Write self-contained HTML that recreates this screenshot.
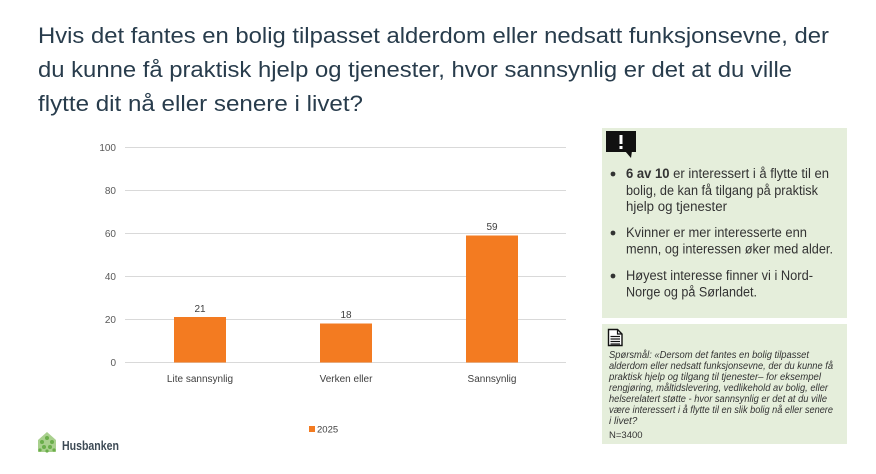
<!DOCTYPE html>
<html><head><meta charset="utf-8"><style>
html,body{margin:0;padding:0;background:#fff;}
svg{display:block;}
text{font-family:"Liberation Sans",sans-serif;}
</style></head><body>
<svg width="876" height="474" viewBox="0 0 876 474" xmlns="http://www.w3.org/2000/svg">
<rect width="876" height="474" fill="#fff"/>
<!-- Title -->
<g fill="#283c4c" font-size="22">
<text x="38" y="43" textLength="791" lengthAdjust="spacingAndGlyphs">Hvis det fantes en bolig tilpasset alderdom eller nedsatt funksjonsevne, der</text>
<text x="38" y="77" textLength="754" lengthAdjust="spacingAndGlyphs">du kunne få praktisk hjelp og tjenester, hvor sannsynlig er det at du ville</text>
<text x="38" y="111" textLength="325" lengthAdjust="spacingAndGlyphs">flytte dit nå eller senere i livet?</text>
</g>
<!-- gridlines -->
<g stroke="#d9d9d9" stroke-width="1">
<line x1="125" y1="147.5" x2="566" y2="147.5"/>
<line x1="125" y1="190.5" x2="566" y2="190.5"/>
<line x1="125" y1="233.5" x2="566" y2="233.5"/>
<line x1="125" y1="276.5" x2="566" y2="276.5"/>
<line x1="125" y1="319.5" x2="566" y2="319.5"/>
<line x1="125" y1="362.5" x2="566" y2="362.5"/>
</g>
<g fill="#595959" font-size="10" text-anchor="end">
<text x="116" y="151">100</text>
<text x="116" y="194">80</text>
<text x="116" y="237">60</text>
<text x="116" y="280">40</text>
<text x="116" y="323">20</text>
<text x="116" y="366">0</text>
</g>
<!-- bars -->
<g fill="#f37b21">
<rect x="174" y="317" width="52" height="45.5"/>
<rect x="320" y="323.5" width="52" height="39"/>
<rect x="466" y="235.5" width="52" height="127"/>
</g>
<g fill="#404040" font-size="10" text-anchor="middle">
<text x="200" y="312">21</text>
<text x="346" y="318">18</text>
<text x="492" y="230">59</text>
<text x="200" y="382">Lite sannsynlig</text>
<text x="346" y="382">Verken eller</text>
<text x="492" y="382">Sannsynlig</text>
</g>
<!-- legend -->
<rect x="309" y="426" width="6" height="6" fill="#f37b21"/>
<text x="317" y="432.5" font-size="9.5" fill="#404040">2025</text>
<!-- Box 1 -->
<rect x="602" y="128" width="245" height="190" fill="#e5eedb"/>
<rect x="606" y="131" width="30" height="21" fill="#111"/>
<polygon points="625,151 632,151 631,158" fill="#111"/>
<rect x="619.5" y="135" width="3" height="9" fill="#fff"/>
<rect x="619.5" y="146" width="3" height="3" fill="#fff"/>
<g fill="#333">
<circle cx="613" cy="174" r="2.4"/>
<circle cx="613" cy="233" r="2.4"/>
<circle cx="613" cy="276" r="2.4"/>
</g>
<g fill="#333" font-size="13.5">
<text x="626" y="178" textLength="203" lengthAdjust="spacingAndGlyphs"><tspan font-weight="bold">6 av 10</tspan> er interessert i å flytte til en</text>
<text x="626" y="195" textLength="192" lengthAdjust="spacingAndGlyphs">bolig, de kan få tilgang på praktisk</text>
<text x="626" y="211" textLength="101" lengthAdjust="spacingAndGlyphs">hjelp og tjenester</text>
<text x="626" y="237" textLength="181" lengthAdjust="spacingAndGlyphs">Kvinner er mer interesserte enn</text>
<text x="626" y="253.5" textLength="207" lengthAdjust="spacingAndGlyphs">menn, og interessen øker med alder.</text>
<text x="626" y="280" textLength="187" lengthAdjust="spacingAndGlyphs">Høyest interesse finner vi i Nord-</text>
<text x="626" y="296.5" textLength="131" lengthAdjust="spacingAndGlyphs">Norge og på Sørlandet.</text>
</g>
<!-- Box 2 -->
<rect x="602" y="324" width="245" height="120" fill="#e5eedb"/>
<path d="M608.5,329.5 h9 l4.5,4.5 v11.5 h-13.5 z" fill="#fff" stroke="#111" stroke-width="1.4"/>
<path d="M617.5,329.5 v4.5 h4.5" fill="none" stroke="#111" stroke-width="1.2"/>
<g stroke="#111" stroke-width="1.2">
<line x1="610.5" y1="336.5" x2="620" y2="336.5"/>
<line x1="610.5" y1="339" x2="620" y2="339"/>
<line x1="610.5" y1="341.5" x2="620" y2="341.5"/>
<line x1="610.5" y1="344" x2="620" y2="344"/>
</g>
<g fill="#333" font-size="10" font-style="italic">
<text x="609" y="358" textLength="200" lengthAdjust="spacingAndGlyphs">Spørsmål: «Dersom det fantes en bolig tilpasset</text>
<text x="609" y="369" textLength="224" lengthAdjust="spacingAndGlyphs">alderdom eller nedsatt funksjonsevne, der du kunne få</text>
<text x="609" y="380" textLength="212" lengthAdjust="spacingAndGlyphs">praktisk hjelp og tilgang til tjenester– for eksempel</text>
<text x="609" y="391" textLength="219" lengthAdjust="spacingAndGlyphs">rengjøring, måltidslevering, vedlikehold av bolig, eller</text>
<text x="609" y="402" textLength="218" lengthAdjust="spacingAndGlyphs">helserelatert støtte - hvor sannsynlig er det at du ville</text>
<text x="609" y="413" textLength="224" lengthAdjust="spacingAndGlyphs">være interessert i å flytte til en slik bolig nå eller senere</text>
<text x="609" y="424">i livet?</text>
</g>
<text x="609" y="438" font-size="9.5" fill="#333">N=3400</text>
<!-- Husbanken logo -->
<g fill="#6aae4a">
<polygon points="38,440 47,432 56,440 56,452 38,452" fill="#a9d08e"/>
<circle cx="42" cy="442" r="2"/><circle cx="47" cy="438" r="2"/><circle cx="52" cy="442" r="2"/>
<circle cx="44" cy="447" r="2"/><circle cx="50" cy="447" r="2"/><circle cx="40" cy="450" r="1.6"/>
<circle cx="54" cy="450" r="1.6"/><circle cx="47" cy="451" r="1.6"/>
</g>
<text x="62" y="450" font-size="12.5" font-weight="bold" fill="#3d4a55" textLength="57" lengthAdjust="spacingAndGlyphs">Husbanken</text>
</svg>
</body></html>
